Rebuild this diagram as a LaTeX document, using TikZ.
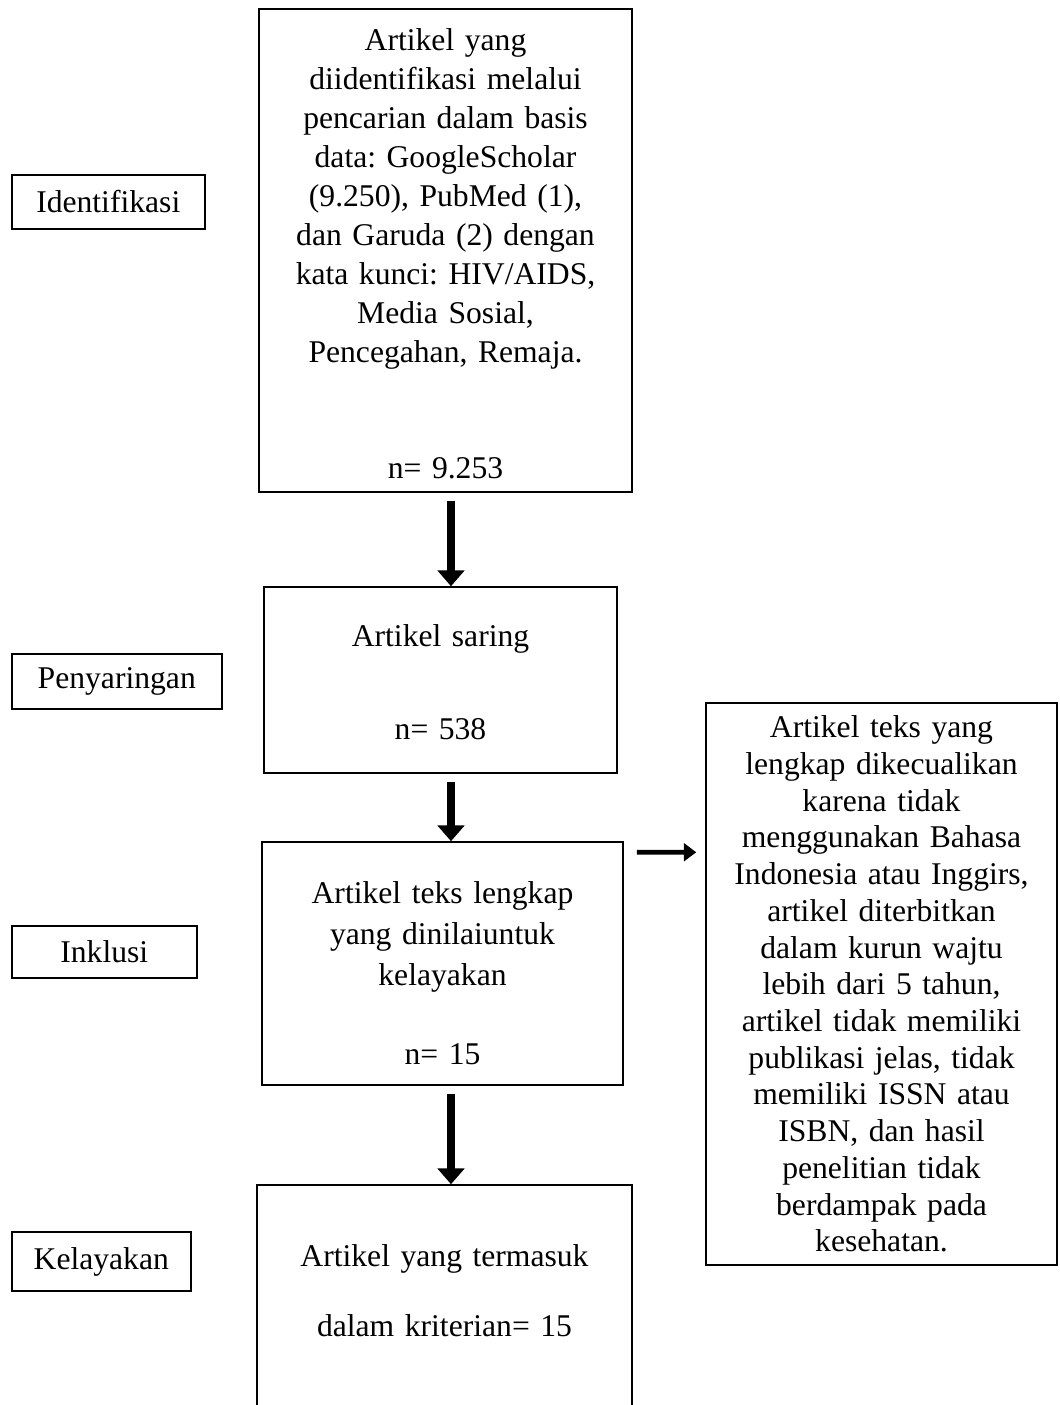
\documentclass[tikz,border=0pt]{standalone}
\usepackage{fontspec}
\setmainfont{Liberation Serif}
\usetikzlibrary{arrows.meta}
\frenchspacing

\begin{document}
\begin{tikzpicture}[x=0.02cm, y=-0.02cm, line width=0.9pt,
  flowbox/.style={draw, inner sep=0pt, align=center, text width=6.8cm,
    font=\fontsize{18}{22.2}\selectfont},
  stagebox/.style={draw, anchor=west, inner sep=0pt, align=center,
    font=\fontsize{18}{22.2}\selectfont},
  bigarrow/.style={line width=4.5pt, -{Triangle[length=9pt, width=15pt]},
    shorten <=4.5pt},
  sidearrow/.style={line width=2.6pt, -{Triangle[length=7pt, width=10pt]}}]

  \useasboundingbox (0,0) rectangle (1059,1405);

  % Main flow boxes
  \node[flowbox, minimum width=7.46cm, minimum height=9.66cm] (ident) at (445.5,250.5)
    {\rule{0pt}{16pt}Artikel yang\\ diidentifikasi melalui\\ pencarian dalam basis\\
     data: GoogleScholar\\ (9.250), PubMed (1),\\ dan Garuda (2) dengan\\
     kata kunci: HIV/AIDS,\\ Media Sosial,\\ Pencegahan, Remaja.\\[44pt]
     n= 9.253};
  \node[flowbox, minimum width=7.06cm, minimum height=3.72cm] (screen) at (440.5,680)
    {\rule{0pt}{15pt}Artikel saring\\[31pt] n= 538};
  \node[flowbox, minimum width=7.22cm, minimum height=4.86cm] (incl) at (442.5,963.5)
    {\rule{0pt}{24pt}Artikel teks lengkap\\[1pt] yang dinilaiuntuk\\[1pt] kelayakan\\[23pt] n= 15};
  \node[flowbox, minimum width=7.5cm, minimum height=4.5cm] (elig) at (444.5,1297.5)
    {Artikel yang termasuk\\[18pt] dalam kriterian= 15\rule[-8pt]{0pt}{8pt}};

  % Excluded articles
  \node[flowbox, minimum width=7.02cm, minimum height=11.24cm,
    font=\fontsize{18}{20.9}\selectfont] (excl) at (881.5,984)
    {Artikel teks yang\\ lengkap dikecualikan\\ karena tidak\\ menggunakan Bahasa\\
     Indonesia atau Inggirs,\\ artikel diterbitkan\\ dalam kurun wajtu\\
     lebih dari 5 tahun,\\ artikel tidak memiliki\\ publikasi jelas, tidak\\
     memiliki ISSN atau\\ ISBN, dan hasil\\ penelitian tidak\\ berdampak pada\\
     kesehatan.};

  % Stage labels
  \node[stagebox, minimum width=3.86cm, minimum height=1.08cm] (lblident) at (11,202) {Identifikasi};
  \node[stagebox, minimum width=4.2cm, minimum height=1.1cm] (lblscreen) at (11,681.5) {Penyaringan};
  \node[stagebox, minimum width=3.7cm, minimum height=1.04cm] (lblincl) at (11,952) {Inklusi};
  \node[stagebox, minimum width=3.58cm, minimum height=1.18cm] (lblelig) at (11,1261.5) {Kelayakan};

  % Arrows
  \coordinate (axis) at (451,0);
  \draw[bigarrow] (ident.south -| axis) -- (screen.north -| axis);
  \draw[bigarrow] (screen.south -| axis) -- (incl.north -| axis);
  \draw[bigarrow] (incl.south -| axis) -- (elig.north -| axis);
  \draw[sidearrow] ([shift={(13,11)}]incl.north east) -- ([shift={(-9,150)}]excl.north west);

\end{tikzpicture}
\end{document}
